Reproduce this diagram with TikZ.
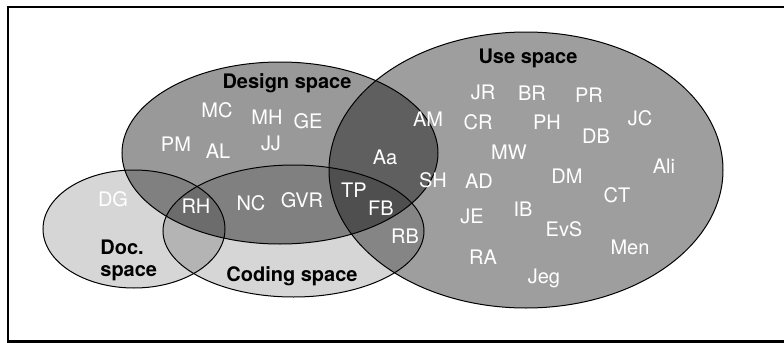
\documentclass[tikz,border=0pt]{standalone}
\usepackage{fontspec}
\setmainfont{TeX Gyre Heros}
\begin{document}
\begin{tikzpicture}[x=0.5pt, y=-0.5pt,
    person/.style={text=white, text height=7.2pt, text depth=0pt, inner sep=0pt},
    spacename/.style={font=\bfseries, text=black, text height=7.2pt, text depth=0pt, inner sep=0pt},
    rim/.style={draw=black, line width=0.5pt}]
    \useasboundingbox (0, 0) rectangle (784, 343);

    %Frame
    \draw[line width=1.2pt] (784, 6.9) -- (7.8, 6.9) -- (7.8, 341.5) -- (784, 341.5);

    %Spaces
    \coordinate (doc) at (134, 229);
    \coordinate (coding) at (293.5, 231);
    \coordinate (design) at (280, 153);
    \coordinate (use) at (526, 170);

    \fill[black, fill opacity=0.16] (doc) ellipse [x radius=91, y radius=59];
    \fill[black, fill opacity=0.16] (coding) ellipse [x radius=130.5, y radius=66];
    \fill[black, fill opacity=0.40] (design) ellipse [x radius=158, y radius=91];
    \fill[black, fill opacity=0.38] (use) ellipse [x radius=197, y radius=138];

    \draw[rim] (doc) ellipse [x radius=91, y radius=59];
    \draw[rim] (coding) ellipse [x radius=130.5, y radius=66];
    \draw[rim] (design) ellipse [x radius=158, y radius=91];
    \draw[rim] (use) ellipse [x radius=197, y radius=138];

    %Space names
    \node[spacename] at (287, 81.6) (designname) {Design space};
    \node[spacename] at (528, 56) (usename) {Use space};
    \node[spacename] at (292, 274) (codingname) {Coding space};
    \node[inner sep=0pt, font=\bfseries, align=left, anchor=north west] at (100, 240) (docname) {Doc.\\[-1pt]space};

    %People
    \node[person] at (217, 110) (mc) {MC};
    \node[person] at (267, 117) (mh) {MH};
    \node[person] at (308, 121) (ge) {GE};
    \node[person] at (176, 144) (pm) {PM};
    \node[person] at (218, 151) (al) {AL};
    \node[person] at (271, 143) (jj) {JJ};
    \node[person] at (385, 157) (aa) {Aa};
    \node[person] at (113, 199) (dg) {DG};
    \node[person] at (196, 206) (rh) {RH};
    \node[person] at (251, 203) (nc) {NC};
    \node[person] at (302, 200) (gvr) {GVR};
    \node[person] at (354, 190) (tp) {TP};
    \node[person] at (381, 208) (fb) {FB};
    \node[person] at (405, 236) (rb) {RB};

    \node[person] at (428, 119) (am) {AM};
    \node[person] at (483, 92) (jr) {JR};
    \node[person] at (532, 93) (br) {BR};
    \node[person] at (589, 95) (pr) {PR};
    \node[person] at (478, 122) (cr) {CR};
    \node[person] at (547, 122) (ph) {PH};
    \node[person] at (640, 118) (jc) {JC};
    \node[person] at (596, 136) (db) {DB};
    \node[person] at (509, 152) (mw) {MW};
    \node[person] at (664, 166) (ali) {Ali};
    \node[person] at (433, 180) (sh) {SH};
    \node[person] at (479, 181) (ad) {AD};
    \node[person] at (567, 176) (dm) {DM};
    \node[person] at (617, 195) (ct) {CT};
    \node[person] at (472, 216) (je) {JE};
    \node[person] at (523, 209) (ib) {IB};
    \node[person] at (564, 229) (evs) {EvS};
    \node[person] at (630, 247) (men) {Men};
    \node[person] at (483, 257) (ra) {RA};
    \node[person] at (544, 276) (jeg) {Jeg};

\end{tikzpicture}
\end{document}
